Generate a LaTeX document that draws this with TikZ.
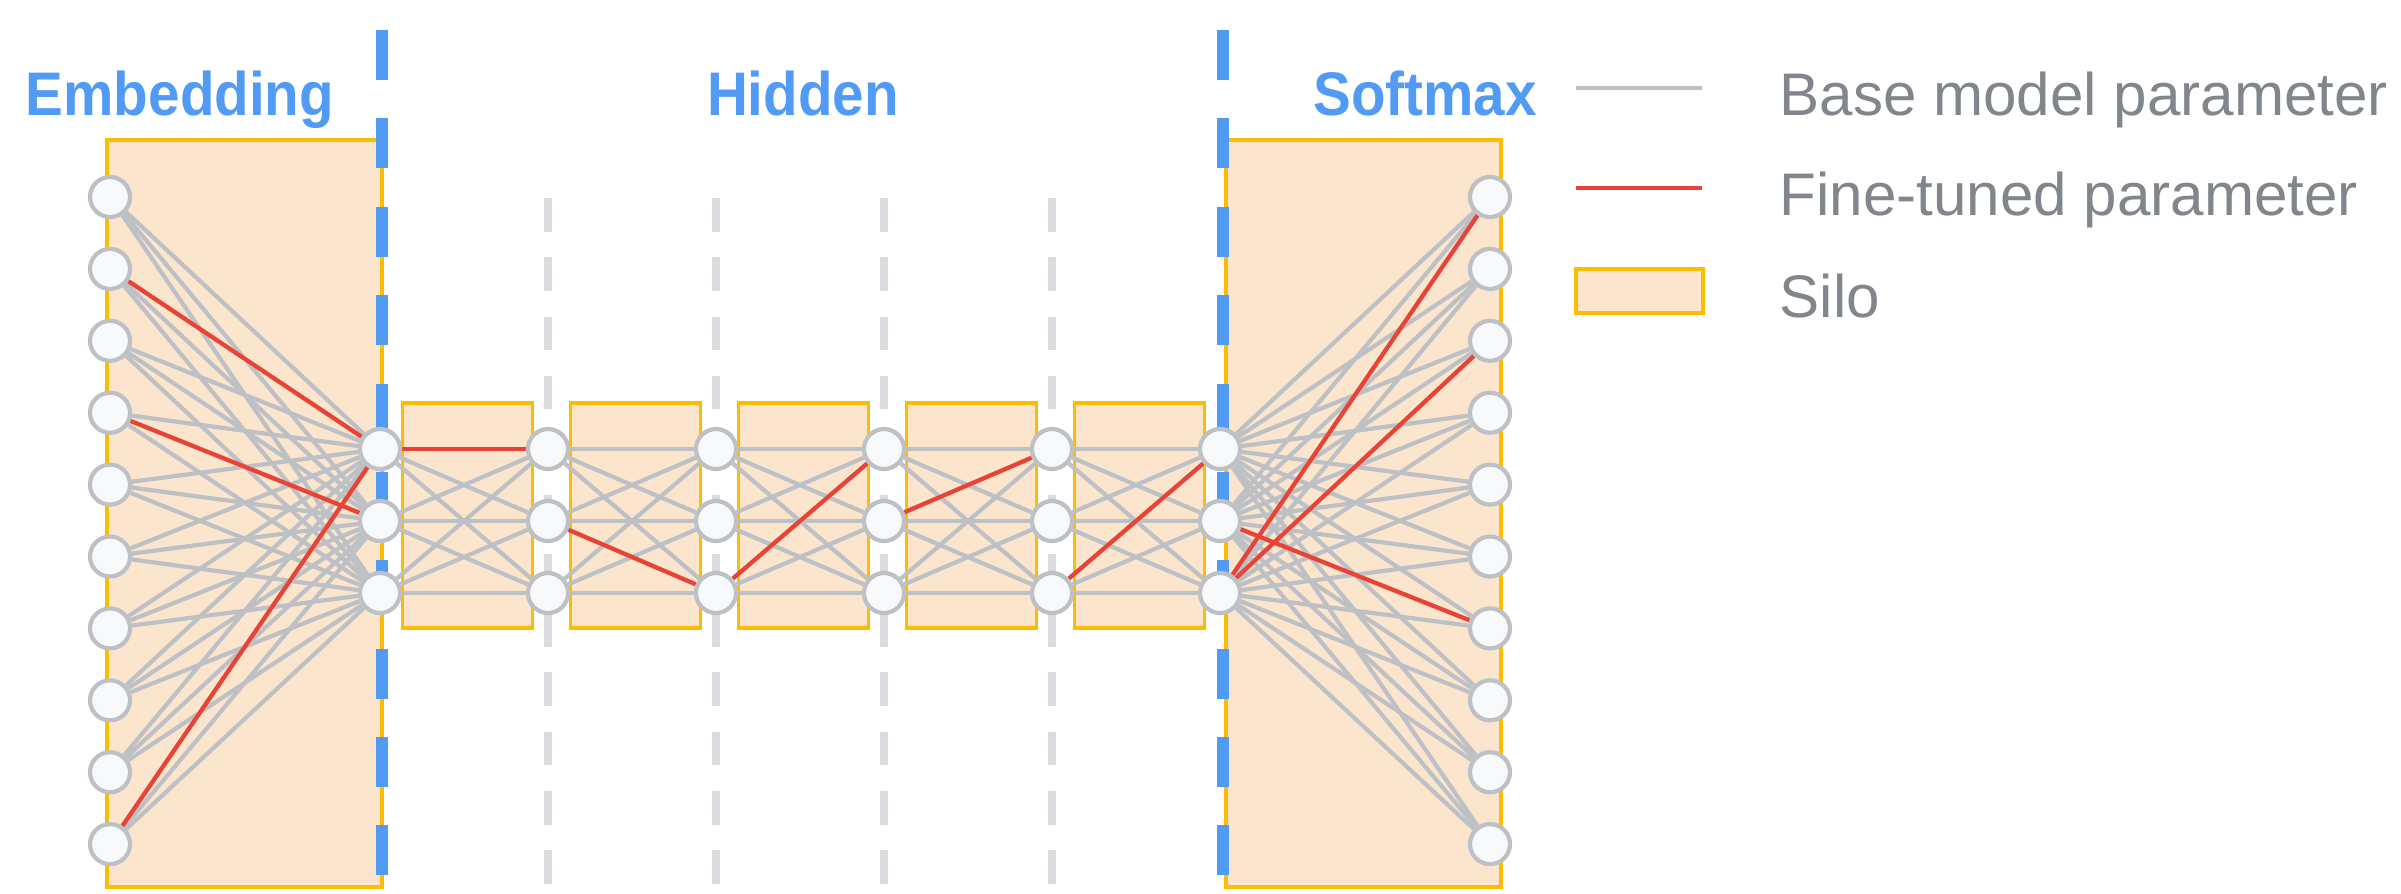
\documentclass[tikz,border=0pt]{standalone}
\usepackage{fontspec}
\setmainfont{Liberation Sans}
\newfontfamily\headfont[FakeStretch=0.92]{Liberation Sans}
\definecolor{divblue}{RGB}{82,155,245}
\definecolor{silofill}{HTML}{FCE5CD}
\definecolor{siloborder}{HTML}{FBBC04}
\definecolor{linegray}{HTML}{BDC1C6}
\definecolor{nodefill}{HTML}{F8F9FA}
\definecolor{tunedred}{HTML}{EA4335}
\definecolor{dashgray}{HTML}{DADCE0}
\definecolor{textgray}{HTML}{80868B}
\pgfdeclarelayer{bg}
\pgfdeclarelayer{mid}
\pgfsetlayers{bg,mid,main}
\begin{document}
\begin{tikzpicture}[x=0.01cm,y=-0.01cm,
  unit/.style={circle, draw=linegray, fill=nodefill, line width=0.042cm, minimum size=0.40cm, inner sep=0pt},
  silo/.style={draw=siloborder, fill=silofill, line width=0.035cm},
  baseline/.style={draw=linegray, line width=0.042cm},
  tuned/.style={draw=tunedred, line width=0.042cm},
  divider/.style={draw=divblue, line width=0.12cm, dash pattern=on 0.5cm off 0.3833cm},
  coldash/.style={draw=dashgray, line width=0.08cm, dash pattern=on 0.335cm off 0.2577cm},
  heading/.style={text=divblue, font=\headfont\bfseries\fontsize{17.5pt}{20pt}\selectfont, inner sep=0pt, anchor=base},
  legendtext/.style={text=textgray, font=\fontsize{17.1pt}{20pt}\selectfont, inner sep=0pt, anchor=base west}]
\useasboundingbox (0,0) rectangle (2401,893);

% nodes
\foreach \i in {1,...,10} {
  \node[unit] (in\i) at (110,{197+71.9*(\i-1)}) {};
  \node[unit] (out\i) at (1490,{197+71.9*(\i-1)}) {};
}
\foreach \c in {1,...,6} {
  \foreach \r in {1,2,3} {
    \node[unit] (h\c-\r) at ({380+168*(\c-1)},{449+72*(\r-1)}) {};
  }
}

% background: boxes and dashed lines
\begin{pgfonlayer}{bg}
  \foreach \c in {2,...,5} {
    \draw[coldash] ({380+168*(\c-1)},198) -- ({380+168*(\c-1)},884);
  }
  \draw[silo] (107,140) rectangle (382,887);
  \draw[silo] (1226,140) rectangle (1501,887);
  \foreach \c in {1,...,5} {
    \draw[silo] ({380+168*(\c-1)+22.5},403) rectangle ({380+168*\c-15.5},628);
  }
  \draw[divider] (382,30) -- (382,876);
  \draw[divider] (1223,30) -- (1223,876);
\end{pgfonlayer}

% connections
\begin{pgfonlayer}{mid}
  \foreach \i in {1,...,10} {
    \foreach \j in {1,2,3} {
      \draw[baseline] (in\i) -- (h1-\j);
      \draw[baseline] (h6-\j) -- (out\i);
    }
  }
  \foreach \c [evaluate=\c as \n using int(\c+1)] in {1,...,5} {
    \foreach \a in {1,2,3} {
      \foreach \b in {1,2,3} {
        \draw[baseline] (h\c-\a) -- (h\n-\b);
      }
    }
  }
  \draw[tuned] (in2) -- (h1-1);
  \draw[tuned] (in4) -- (h1-2);
  \draw[tuned] (in10) -- (h1-1);
  \draw[tuned] (h1-1) -- (h2-1);
  \draw[tuned] (h2-2) -- (h3-3);
  \draw[tuned] (h3-3) -- (h4-1);
  \draw[tuned] (h4-2) -- (h5-1);
  \draw[tuned] (h5-3) -- (h6-1);
  \draw[tuned] (h6-3) -- (out1);
  \draw[tuned] (h6-3) -- (out3);
  \draw[tuned] (h6-2) -- (out7);
\end{pgfonlayer}

% headings
\node[heading] (embt) at (180,115) {Embedding};
\node[heading] (hidt) at (803,115) {Hidden};
\node[heading] (soft) at (1425,115) {Softmax};

% legend
\coordinate (lgA1) at (1576,88);
\coordinate (lgA2) at (1702,88);
\coordinate (lgB1) at (1576,188);
\coordinate (lgB2) at (1702,188);
\draw[baseline] (lgA1) -- (lgA2);
\draw[tuned] (lgB1) -- (lgB2);
\node[silo, minimum width=1.27cm, minimum height=0.44cm, inner sep=0pt] (lgsilo) at (1639.5,291) {};
\node[legendtext] (lgtA) at (1779,115) {Base model parameter};
\node[legendtext] (lgtB) at (1779,215) {Fine-tuned parameter};
\node[legendtext] (lgtC) at (1779,317) {Silo};
\end{tikzpicture}
\end{document}
